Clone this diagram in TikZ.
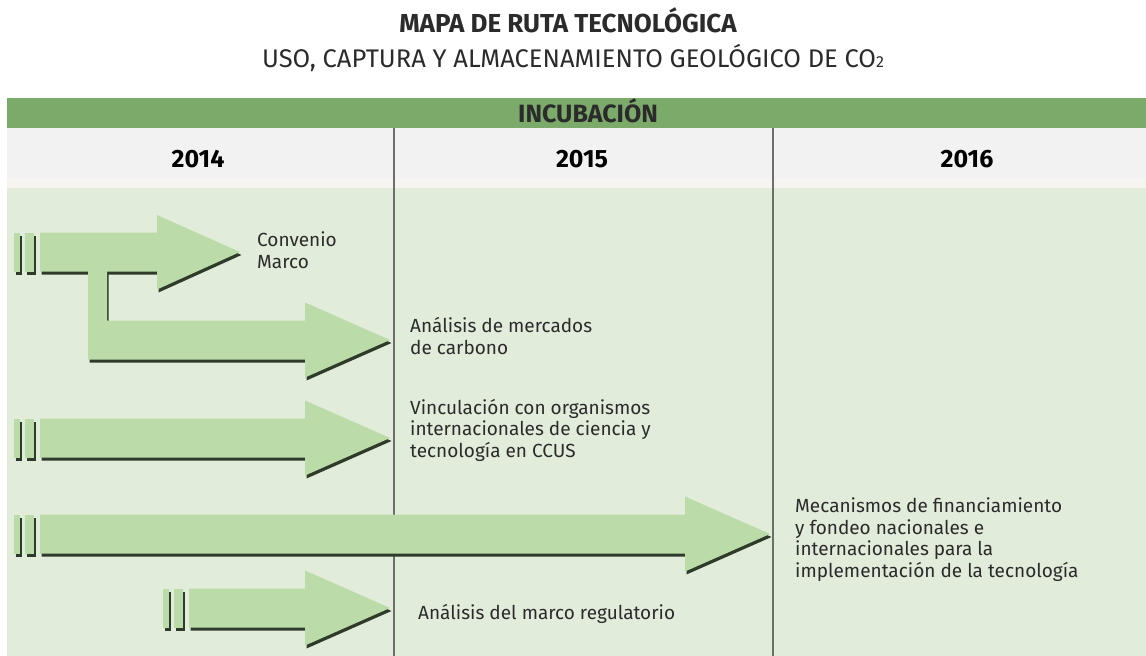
\documentclass[tikz,border=0pt]{standalone}
\usepackage{fontspec}
\setmainfont{Fira Sans}
\definecolor{barra}{HTML}{7BAA6A}
\definecolor{cabecera}{HTML}{F2F2F2}
\definecolor{franja}{HTML}{F6F4F1}
\definecolor{fondo}{HTML}{E2ECDA}
\definecolor{relleno}{HTML}{BBDCA9}
\definecolor{sombra}{HTML}{2E3B2B}
\definecolor{linea}{HTML}{6E6E6E}
\definecolor{texto}{HTML}{2B2B2B}
% flecha: inicio, base de la punta, punta, centro
\newcommand{\flecha}[4]{%
  \fill[sombra,shift={(1.5,3)}] (#1,#4-19.5) -- (#2,#4-19.5) -- (#2,#4-37.5) -- (#3,#4)
    -- (#2,#4+37.5) -- (#2,#4+19.5) -- (#1,#4+19.5) -- cycle;
  \fill[relleno] (#1,#4-19.5) -- (#2,#4-19.5) -- (#2,#4-37.5) -- (#3,#4)
    -- (#2,#4+37.5) -- (#2,#4+19.5) -- (#1,#4+19.5) -- cycle;}
% cortes: dos barras antes del inicio
\newcommand{\cortes}[2]{%
  \fill[sombra,shift={(1.5,3)}] (#1,#2-19.5) rectangle (#1+6,#2+19.5);
  \fill[sombra,shift={(1.5,3)}] (#1+11,#2-19.5) rectangle (#1+20,#2+19.5);
  \fill[relleno] (#1,#2-19.5) rectangle (#1+6,#2+19.5);
  \fill[relleno] (#1+11,#2-19.5) rectangle (#1+20,#2+19.5);}
\begin{document}
\begin{tikzpicture}[x=1pt,y=-1pt]
\tikzset{etiqueta/.style={anchor=base west,inner sep=0pt,align=left,text=texto,
    font=\fontsize{19}{21.5}\selectfont},
  anio/.style={anchor=base,inner sep=0pt,text=black,font=\fontsize{25}{25}\selectfont\bfseries},
  divisor/.style={draw=linea,line width=1.4pt}}
\useasboundingbox (0,0) rectangle (1146,656);
\fill[white] (0,0) rectangle (1146,656);
% fondo de la tabla
\fill[fondo] (7,188) rectangle (1146,656);
\fill[cabecera] (7,128) rectangle (1146,178);
\fill[franja] (7,178) rectangle (1146,188);
\fill[barra] (7,98) rectangle (1146,128);
\draw[divisor] (394,128) -- (394,656);
\draw[divisor] (773,128) -- (773,656);
% titulos
\node[anchor=base,inner sep=0pt,text=texto,font=\fontsize{26}{26}\selectfont\bfseries] (titulo) at (568,32) {MAPA DE RUTA TECNOLÓGICA};
\node[anchor=base,inner sep=0pt,text=texto,font=\fontsize{25.5}{25.5}\selectfont] (subtitulo) at (573,67) {USO, CAPTURA Y ALMACENAMIENTO GEOLÓGICO DE CO{\fontsize{16}{16}\selectfont 2}};
\node[anchor=base,inner sep=0pt,text=texto,font=\fontsize{25}{25}\selectfont\bfseries] (fase) at (588,122) {INCUBACIÓN};
\node[anio] (a2014) at (198,167) {2014};
\node[anio] (a2015) at (582,167) {2015};
\node[anio] (a2016) at (967,167) {2016};
% flechas 1 y 2 con ramal
\fill[sombra,shift={(1.5,3)}] (40,232.5) -- (157,232.5) -- (157,215) -- (240,252) -- (157,289.5) -- (157,271.5)
  -- (107,271.5) -- (107,320.5) -- (305,320.5) -- (305,302.5) -- (390,340) -- (305,377.5) -- (305,359.5)
  -- (88,359.5) -- (88,271.5) -- (40,271.5) -- cycle;
\fill[relleno] (40,232.5) -- (157,232.5) -- (157,215) -- (240,252) -- (157,289.5) -- (157,271.5)
  -- (107,271.5) -- (107,320.5) -- (305,320.5) -- (305,302.5) -- (390,340) -- (305,377.5) -- (305,359.5)
  -- (88,359.5) -- (88,271.5) -- (40,271.5) -- cycle;
\cortes{14}{252}
% flechas 3 a 5
\cortes{14}{438}
\flecha{40}{305}{390}{438}
\cortes{14}{534}
\flecha{40}{685}{770}{534}
\cortes{163}{608}
\flecha{189}{305}{390}{608}
% etiquetas (base de la ultima linea)
\node[etiqueta] (convenio) at (257,268) {Convenio\\Marco};
\node[etiqueta] (mercados) at (410,354) {Análisis de mercados\\de carbono};
\node[etiqueta] (vinculacion) at (410,457) {Vinculación con organismos\\internacionales de ciencia y\\tecnología en CCUS};
\node[etiqueta] (mecanismos) at (795,577) {Mecanismos de financiamiento\\y fondeo nacionales e\\internacionales para la\\implementación de la tecnología};
\node[etiqueta] (marco) at (418,619) {Análisis del marco regulatorio};
\end{tikzpicture}
\end{document}
